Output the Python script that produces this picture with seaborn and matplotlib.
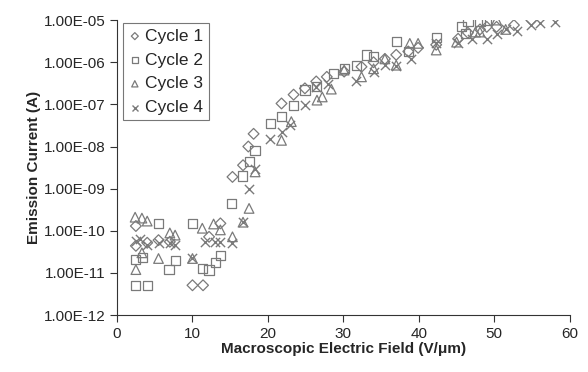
import pandas as pd
import matplotlib
matplotlib.use("Agg")
import matplotlib.pyplot as plt
import seaborn as sns
from matplotlib.ticker import FuncFormatter, LogLocator, NullLocator

# ---------------------------------------------------------------------------
# Data (field in V/um, current in A)
# ---------------------------------------------------------------------------
cycle1_field = [2.5, 2.5, 4.0, 5.5, 7.0, 10.0, 11.4, 12.2, 13.7, 15.3, 16.7, 17.4,
                18.1, 21.8, 23.4, 24.9, 26.4, 27.8, 30.1, 32.4, 34.0, 35.5, 37.0,
                38.6, 39.9, 42.3, 45.2, 46.5, 48.1, 49.0, 50.3, 52.6, 54.9]
cycle1_current = [1.3e-10, 4.4e-11, 5.2e-11, 6.0e-11, 5.5e-11, 5.1e-12, 5.1e-12,
                  7.2e-11, 1.5e-10, 1.9e-9, 3.6e-9, 1.0e-8, 2.0e-8, 1.05e-7,
                  1.7e-7, 2.4e-7, 3.5e-7, 4.5e-7, 6.0e-7, 7.8e-7, 1.0e-6, 1.2e-6,
                  1.5e-6, 1.8e-6, 2.2e-6, 2.6e-6, 3.6e-6, 5.0e-6, 6.0e-6, 6.9e-6,
                  6.9e-6, 7.6e-6, 1.0e-5]

cycle2_field = [2.5, 2.5, 3.4, 4.0, 5.5, 6.9, 7.7, 10.0, 11.3, 12.2, 13.0, 13.7,
                15.2, 16.6, 17.6, 18.3, 20.3, 21.8, 23.4, 24.9, 26.4, 28.7, 30.1,
                31.7, 33.1, 34.0, 37.0, 38.6, 42.3, 45.6, 46.2, 46.5, 48.1, 49.0]
cycle2_current = [2.1e-11, 5.1e-12, 2.3e-11, 5.1e-12, 1.5e-10, 1.2e-11, 2.0e-11,
                  1.5e-10, 1.26e-11, 1.17e-11, 1.74e-11, 2.6e-11, 4.5e-10, 2.0e-9,
                  4.4e-9, 8.0e-9, 3.5e-8, 5.2e-8, 9.5e-8, 2.2e-7, 2.6e-7, 5.4e-7,
                  7.0e-7, 8.5e-7, 1.48e-6, 1.35e-6, 3.1e-6, 1.8e-6, 3.9e-6, 6.9e-6,
                  4.8e-6, 9.1e-6, 9.1e-6, 1.0e-5]

cycle3_field = [2.4, 2.5, 3.3, 3.3, 4.0, 5.5, 7.0, 7.7, 10.0, 11.3, 12.8, 13.7,
                15.3, 16.7, 17.5, 18.3, 21.8, 23.1, 26.5, 27.2, 28.4, 30.1, 32.4,
                34.0, 35.5, 37.0, 38.8, 39.9, 42.3, 45.0, 47.5, 48.1, 50.3, 51.5]
cycle3_current = [2.1e-10, 1.2e-11, 2.0e-10, 3.0e-11, 1.7e-10, 2.2e-11, 8.9e-11,
                  7.9e-11, 2.2e-11, 1.15e-10, 1.45e-10, 1.05e-10, 7.2e-11, 1.6e-10,
                  3.4e-10, 2.5e-9, 1.4e-8, 3.9e-8, 1.26e-7, 1.5e-7, 2.3e-7, 6.5e-7,
                  4.5e-7, 7.0e-7, 1.2e-6, 8.5e-7, 2.8e-6, 2.8e-6, 1.95e-6, 3.0e-6,
                  5.2e-6, 5.2e-6, 1.0e-5, 6.0e-6]

cycle4_field = [2.5, 3.1, 4.0, 5.5, 7.0, 7.7, 10.0, 11.7, 13.0, 13.7, 15.3, 16.7,
                17.5, 18.3, 20.3, 21.8, 22.9, 24.9, 26.4, 28.0, 31.7, 34.0, 35.5,
                37.0, 39.0, 42.3, 45.2, 47.0, 49.0, 50.3, 51.6, 53.0, 54.9, 56.0,
                58.0]
cycle4_current = [5.8e-11, 6.3e-11, 4.6e-11, 5.0e-11, 5.0e-11, 4.5e-11, 2.3e-11,
                  5.5e-11, 5.5e-11, 5.5e-11, 5.0e-11, 1.6e-10, 1.0e-9, 2.9e-9,
                  1.5e-8, 2.2e-8, 3.2e-8, 9.5e-8, 2.6e-7, 3.0e-7, 3.5e-7, 5.9e-7,
                  8.5e-7, 8.0e-7, 1.2e-6, 2.8e-6, 2.8e-6, 3.5e-6, 3.6e-6, 4.8e-6,
                  6.3e-6, 5.5e-6, 7.6e-6, 8.3e-6, 9.1e-6]

cycles = ["Cycle 1", "Cycle 2", "Cycle 3", "Cycle 4"]
fields = [cycle1_field, cycle2_field, cycle3_field, cycle4_field]
currents = [cycle1_current, cycle2_current, cycle3_current, cycle4_current]


# ---------------------------------------------------------------------------
# Plot
# ---------------------------------------------------------------------------
def plot_emission():
    sns.set_style("ticks")
    plt.rcParams["font.family"] = ["Liberation Sans", "DejaVu Sans"]

    fig = plt.figure(figsize=(5.88, 3.72), dpi=100)
    ax = fig.add_axes([0.199, 0.153, 0.770, 0.793])

    grey = "#7a7a7a"
    markers = {"Cycle 1": "D", "Cycle 2": "s", "Cycle 3": "^", "Cycle 4": "x"}
    sizes = {"Cycle 1": 30, "Cycle 2": 44, "Cycle 3": 48, "Cycle 4": 44}

    for name, fx, cy in zip(cycles, fields, currents):
        df = pd.DataFrame({"field": fx, "current": cy})
        m = markers[name]
        if m == "x":
            sns.scatterplot(data=df, x="field", y="current", marker=m,
                            s=sizes[name], color=grey, linewidth=1.0,
                            label=name, ax=ax)
        else:
            sns.scatterplot(data=df, x="field", y="current", marker=m,
                            s=sizes[name], facecolor="none", edgecolor=grey,
                            linewidth=0.9, label=name, ax=ax)

    ax.set_yscale("log")
    ax.set_xlim(0, 60)
    ax.set_ylim(1e-12, 1e-5)
    ax.set_xticks(range(0, 61, 10))
    ax.yaxis.set_major_locator(LogLocator(base=10, numticks=10))
    ax.yaxis.set_minor_locator(NullLocator())
    ax.yaxis.set_major_formatter(FuncFormatter(lambda v, _: f"{v:.2E}"))

    ax.set_xlabel("Macroscopic Electric Field (V/\u03bcm)", fontsize=11,
                  fontweight="bold", labelpad=1)
    ax.set_ylabel("Emission Current (A)", fontsize=11, fontweight="bold",
                  labelpad=2)
    ax.tick_params(axis="both", labelsize=11, length=5, width=0.8,
                   color="#333333", direction="out")

    sns.despine(ax=ax)
    for side in ["left", "bottom"]:
        ax.spines[side].set_color("#333333")
        ax.spines[side].set_linewidth(0.8)

    leg = ax.legend(loc="upper left", bbox_to_anchor=(0.0125, 0.989),
                    fontsize=12.5, frameon=True, fancybox=False,
                    markerscale=0.65, handletextpad=0.2, borderpad=0.3,
                    labelspacing=0.5, handlelength=0.8, borderaxespad=0.0)
    leg.get_frame().set_edgecolor("#555555")
    leg.get_frame().set_linewidth(0.8)

    fig.savefig("out.png", dpi=100)


if __name__ == "__main__":
    plot_emission()
